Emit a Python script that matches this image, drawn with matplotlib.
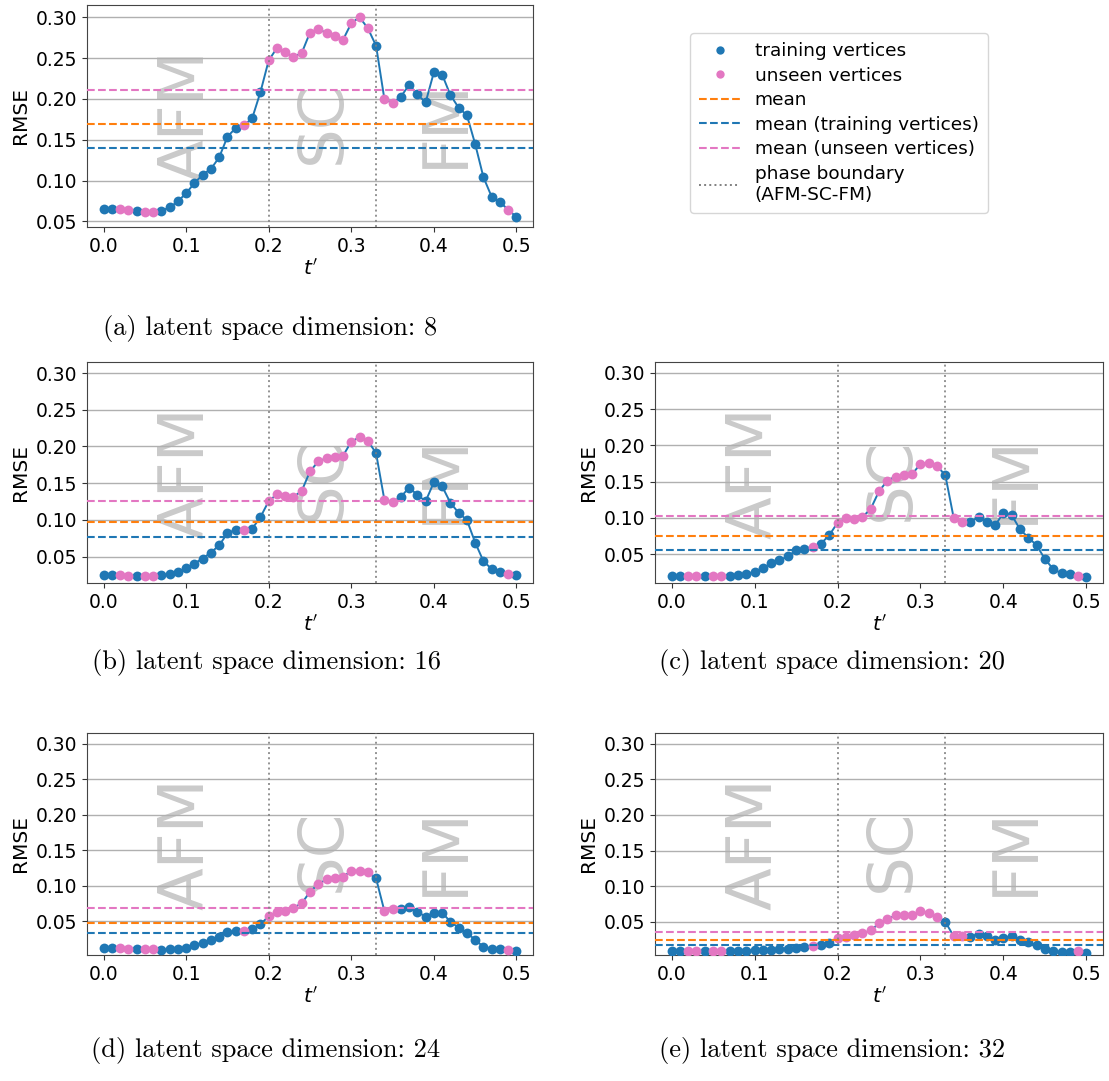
import numpy as np
import matplotlib
matplotlib.use("Agg")
import matplotlib.pyplot as plt
from matplotlib.lines import Line2D

# t' grid shared by all panels
t_prime = np.round(np.arange(0, 51) * 0.01, 2)

# vertices that were held out from training
unseen_idx = [2, 3, 5, 6, 17, 20, 21, 22, 23, 24, 25, 26, 27, 28, 29, 30, 31, 32, 34, 35, 49]

phase_boundaries = [0.2, 0.33]
phase_names = ["AFM", "SC", "FM"]
phase_centers = [0.1, 0.265, 0.415]

x_ticks = [0.0, 0.1, 0.2, 0.3, 0.4, 0.5]
y_ticks = [0.05, 0.10, 0.15, 0.20, 0.25, 0.30]

rmse_dim8 = [
    0.0646, 0.0646, 0.0654, 0.0634, 0.0626, 0.0614, 0.0614, 0.0630, 0.0670, 0.0744,
    0.0845, 0.0967, 0.1072, 0.1141, 0.1283, 0.1535, 0.1644, 0.1677, 0.1762, 0.2083,
    0.2472, 0.2623, 0.2574, 0.2513, 0.2562, 0.2813, 0.2858, 0.2805, 0.2765, 0.2724,
    0.2927, 0.3000, 0.2866, 0.2651, 0.2002, 0.1945, 0.2026, 0.2172, 0.2054, 0.1957,
    0.2326, 0.2298, 0.2046, 0.1892, 0.1799, 0.1446, 0.1040, 0.0800, 0.0735, 0.0642,
    0.0553,
]
rmse_dim16 = [
    0.0247, 0.0247, 0.0247, 0.0238, 0.0238, 0.0234, 0.0234, 0.0243, 0.0265, 0.0292,
    0.0342, 0.0405, 0.0473, 0.0554, 0.0653, 0.0816, 0.0866, 0.0866, 0.0879, 0.1037,
    0.1254, 0.1348, 0.1321, 0.1312, 0.1394, 0.1660, 0.1795, 0.1840, 0.1854, 0.1872,
    0.2066, 0.2125, 0.2079, 0.1908, 0.1276, 0.1240, 0.1312, 0.1439, 0.1339, 0.1254,
    0.1511, 0.1457, 0.1231, 0.1096, 0.0996, 0.0690, 0.0437, 0.0329, 0.0292, 0.0256,
    0.0247,
]
rmse_dim20 = [
    0.0194, 0.0194, 0.0194, 0.0194, 0.0194, 0.0194, 0.0194, 0.0199, 0.0208, 0.0222,
    0.0258, 0.0308, 0.0372, 0.0418, 0.0468, 0.0555, 0.0578, 0.0600, 0.0646, 0.0760,
    0.0933, 0.0993, 0.0988, 0.1011, 0.1125, 0.1367, 0.1513, 0.1568, 0.1586, 0.1604,
    0.1745, 0.1755, 0.1718, 0.1586, 0.1002, 0.0947, 0.0947, 0.1011, 0.0947, 0.0897,
    0.1070, 0.1038, 0.0842, 0.0728, 0.0623, 0.0432, 0.0295, 0.0235, 0.0222, 0.0203,
    0.0181,
]
rmse_dim24 = [
    0.0115, 0.0115, 0.0115, 0.0111, 0.0106, 0.0101, 0.0101, 0.0097, 0.0101, 0.0106,
    0.0125, 0.0162, 0.0195, 0.0233, 0.0280, 0.0341, 0.0359, 0.0364, 0.0383, 0.0453,
    0.0570, 0.0627, 0.0645, 0.0688, 0.0749, 0.0913, 0.1021, 0.1086, 0.1110, 0.1124,
    0.1208, 0.1208, 0.1185, 0.1100, 0.0645, 0.0664, 0.0664, 0.0692, 0.0631, 0.0561,
    0.0617, 0.0617, 0.0491, 0.0406, 0.0336, 0.0233, 0.0139, 0.0111, 0.0101, 0.0092,
    0.0078,
]
rmse_dim32 = [
    0.0089, 0.0093, 0.0093, 0.0093, 0.0089, 0.0089, 0.0089, 0.0093, 0.0093, 0.0098,
    0.0103, 0.0107, 0.0112, 0.0121, 0.0126, 0.0136, 0.0150, 0.0164, 0.0173, 0.0206,
    0.0280, 0.0290, 0.0310, 0.0340, 0.0380, 0.0480, 0.0540, 0.0590, 0.0600, 0.0590,
    0.0650, 0.0620, 0.0570, 0.0500, 0.0299, 0.0299, 0.0290, 0.0336, 0.0300, 0.0243,
    0.0280, 0.0300, 0.0243, 0.0215, 0.0173, 0.0121, 0.0089, 0.0080, 0.0080, 0.0089,
    0.0065,
]

panel_labels = ["(a)", "(b)", "(c)", "(d)", "(e)"]
latent_dims = [8, 16, 20, 24, 32]
panel_series = [rmse_dim8, rmse_dim16, rmse_dim20, rmse_dim24, rmse_dim32]

C_TRAIN = "#1f77b4"
C_UNSEEN = "#e377c2"
C_MEAN = "#ff7f0e"

W, H = 1109, 1081
fig = plt.figure(figsize=(W / 100, H / 100), dpi=100)

# axes boxes in pixels: left, right, top, bottom
boxes = [
    (87, 533, 5, 227),
    (87, 533, 362, 583),
    (655, 1103, 362, 583),
    (87, 533, 733, 955),
    (655, 1103, 733, 955),
]
captions_xy = [(270, 328), (266, 662), (832, 662), (266, 1051), (832, 1051)]

TICK_FS = 13.5
Y_TOP = 0.315

train_mask = np.ones(len(t_prime), dtype=bool)
train_mask[unseen_idx] = False

for values, (l, r, top, bot), label, dim, (cx, cy) in zip(
        panel_series, boxes, panel_labels, latent_dims, captions_xy):
    y = np.asarray(values)
    ax = fig.add_axes([l / W, 1 - bot / H, (r - l) / W, (bot - top) / H])

    ax.plot(t_prime, y, color=C_TRAIN, lw=1.4, zorder=2)
    ax.scatter(t_prime[train_mask], y[train_mask], s=50, color=C_TRAIN,
               linewidths=0, zorder=3, label="training vertices")
    ax.scatter(t_prime[~train_mask], y[~train_mask], s=50, color=C_UNSEEN,
               linewidths=0, zorder=3, label="unseen vertices")

    ax.axhline(y.mean(), color=C_MEAN, ls="--", lw=1.5, zorder=4, label="mean")
    ax.axhline(y[train_mask].mean(), color=C_TRAIN, ls="--", lw=1.5, zorder=4,
               label="mean (training vertices)")
    ax.axhline(y[~train_mask].mean(), color=C_UNSEEN, ls="--", lw=1.5, zorder=4,
               label="mean (unseen vertices)")
    for xb in phase_boundaries:
        ax.axvline(xb, color="gray", ls=":", lw=1.4, alpha=0.85, zorder=4)

    for name, xc in zip(phase_names, phase_centers):
        ax.text(xc, 0.5 if name == "AFM" else 0.47, name,
                transform=ax.get_xaxis_transform(), rotation=90,
                ha="center", va="center", fontsize=45, color="gray",
                alpha=0.42, zorder=0.5)

    ymin = y.min() - 0.05 * (y.max() - y.min())
    ax.set_xlim(-0.02, 0.52)
    ax.set_ylim(ymin, Y_TOP)
    ax.set_xticks(x_ticks)
    ax.set_yticks(y_ticks)
    ax.set_xticklabels([f"{v:.1f}" for v in x_ticks])
    ax.set_yticklabels([f"{v:.2f}" for v in y_ticks])
    ax.tick_params(labelsize=TICK_FS, color="#333333")
    ax.grid(axis="y", color="#b0b0b0", lw=1.0)
    ax.set_axisbelow(True)
    for sp in ax.spines.values():
        sp.set_color("#444444")
    ax.set_xlabel(r"$t'$", fontsize=14.5, labelpad=2)
    ax.set_ylabel("RMSE", fontsize=14.5, labelpad=4)

    fig.text(cx / W, 1 - cy / H, f"{label} latent space dimension: {dim}",
             ha="center", va="center", fontsize=19, family="cmr10")

legend_handles = [
    Line2D([], [], ls="none", marker="o", ms=6, color=C_TRAIN, mew=0),
    Line2D([], [], ls="none", marker="o", ms=6, color=C_UNSEEN, mew=0),
    Line2D([], [], ls="--", lw=1.5, color=C_MEAN),
    Line2D([], [], ls="--", lw=1.5, color=C_TRAIN),
    Line2D([], [], ls="--", lw=1.5, color=C_UNSEEN),
    Line2D([], [], ls=":", lw=1.4, color="gray"),
]
legend_labels = [
    "training vertices",
    "unseen vertices",
    "mean",
    "mean (training vertices)",
    "mean (unseen vertices)",
    "phase boundary\n(AFM-SC-FM)",
]
fig.legend(legend_handles, legend_labels, loc="center",
           bbox_to_anchor=(839 / W, 1 - 123 / H), fontsize=13.3,
           handlelength=2.2, labelspacing=0.35, borderpad=0.5,
           frameon=True, edgecolor="#cccccc")

fig.savefig("out.png", dpi=100)
